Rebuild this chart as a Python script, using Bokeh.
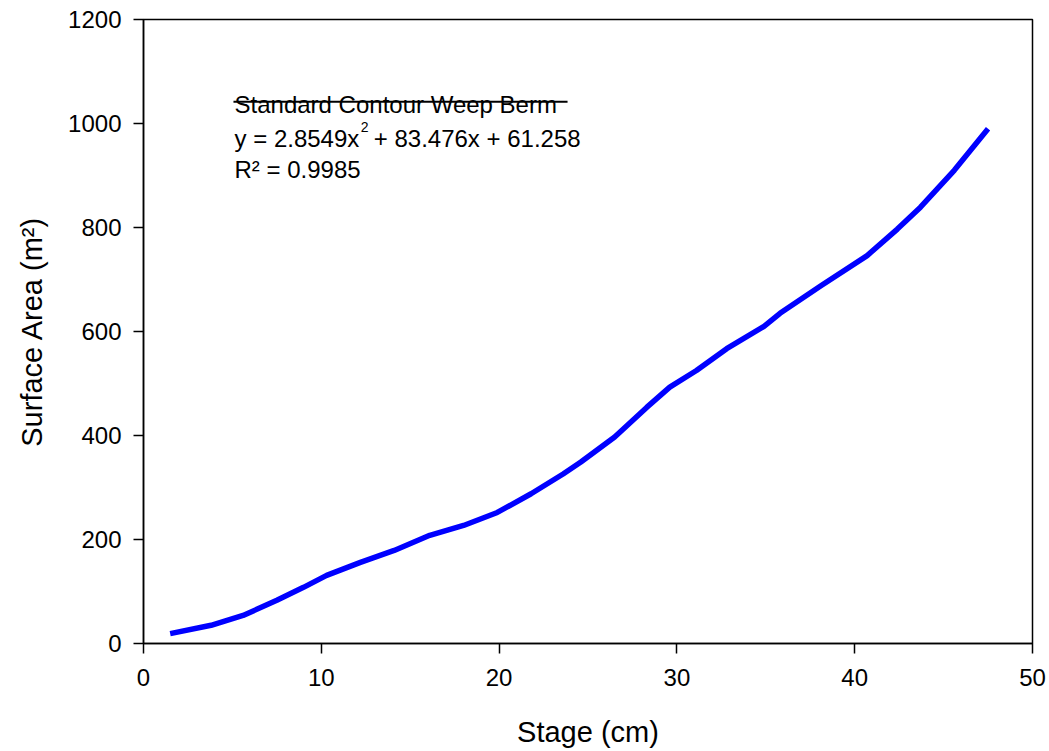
from bokeh.plotting import figure
from bokeh.models import Range1d, FixedTicker, Label
from bokeh.embed import file_html
from bokeh.resources import INLINE

# stage (cm) vs surface area (m2)
stage = [1.5, 3.8, 5.6, 7.5, 9.0, 10.3, 12.2, 14.1, 16.1, 18.0, 19.9,
         21.8, 23.6, 24.6, 26.5, 28.3, 29.6, 31.1, 32.8, 34.9, 35.8,
         38.1, 40.7, 42.4, 43.7, 45.6, 47.5]
area = [19, 35, 54, 83, 108, 131, 156, 179, 208, 227, 252,
        288, 326, 349, 397, 454, 493, 525, 567, 610, 635,
        688, 746, 797, 839, 910, 990]

x_ticks = [0, 10, 20, 30, 40, 50]
y_ticks = [0, 200, 400, 600, 800, 1000, 1200]

legend_title = "Standard Contour Weep Berm"
eq_left = "y = 2.8549x"
eq_exp = "2"
eq_right = " + 83.476x + 61.258"
r2_text = "R\u00b2 = 0.9985"

FONT = "Liberation Sans"

p = figure(width=1049, height=751, output_backend="svg", toolbar_location=None,
           x_range=Range1d(0, 50), y_range=Range1d(0, 1200),
           min_border_left=143, min_border_top=19, min_border_right=17,
           min_border_bottom=108)
p.frame_width = 889
p.frame_height = 624

p.xgrid.visible = False
p.ygrid.visible = False
p.outline_line_color = "black"
p.outline_line_width = 1.5
p.background_fill_color = "white"
p.border_fill_color = "white"

p.line(stage, area, line_color="#0000ff", line_width=5.5, line_join="round", line_cap="butt")

# legend sample line running through the title text
p.segment(x0=[5.06], y0=[1042], x1=[23.85], y1=[1042], line_color="black", line_width=2)


def add_label(x, y, text, size="24px"):
    p.add_layout(Label(x=x, y=y, text=text, text_font=FONT, text_font_size=size,
                       text_color="black", text_baseline="alphabetic"))


add_label(5.12, 1036, legend_title)
add_label(5.12, 971, eq_left)
add_label(12.22, 993, eq_exp, "14px")
add_label(12.95, 971, eq_right)
add_label(5.12, 912, r2_text)

for ax in (p.xaxis, p.yaxis):
    ax.axis_line_color = "black"
    ax.axis_line_width = 1.5
    ax.major_tick_line_color = "black"
    ax.major_tick_line_width = 1.5
    ax.major_tick_out = 10
    ax.major_tick_in = 0
    ax.minor_tick_line_color = None
    ax.major_label_text_font = FONT
    ax.major_label_text_font_size = "24px"
    ax.major_label_text_color = "black"
    ax.axis_label_text_font = FONT
    ax.axis_label_text_font_size = "29px"
    ax.axis_label_text_font_style = "normal"
    ax.axis_label_text_color = "black"

p.xaxis.ticker = FixedTicker(ticks=x_ticks)
p.yaxis.ticker = FixedTicker(ticks=y_ticks)
p.xaxis.axis_label = "Stage (cm)"
p.yaxis.axis_label = "Surface Area (m\u00b2)"
p.xaxis.major_label_standoff = 15
p.yaxis.major_label_standoff = 12
p.xaxis.axis_label_standoff = 27
p.yaxis.axis_label_standoff = 17

open("out.html", "w").write(file_html(p, INLINE))
